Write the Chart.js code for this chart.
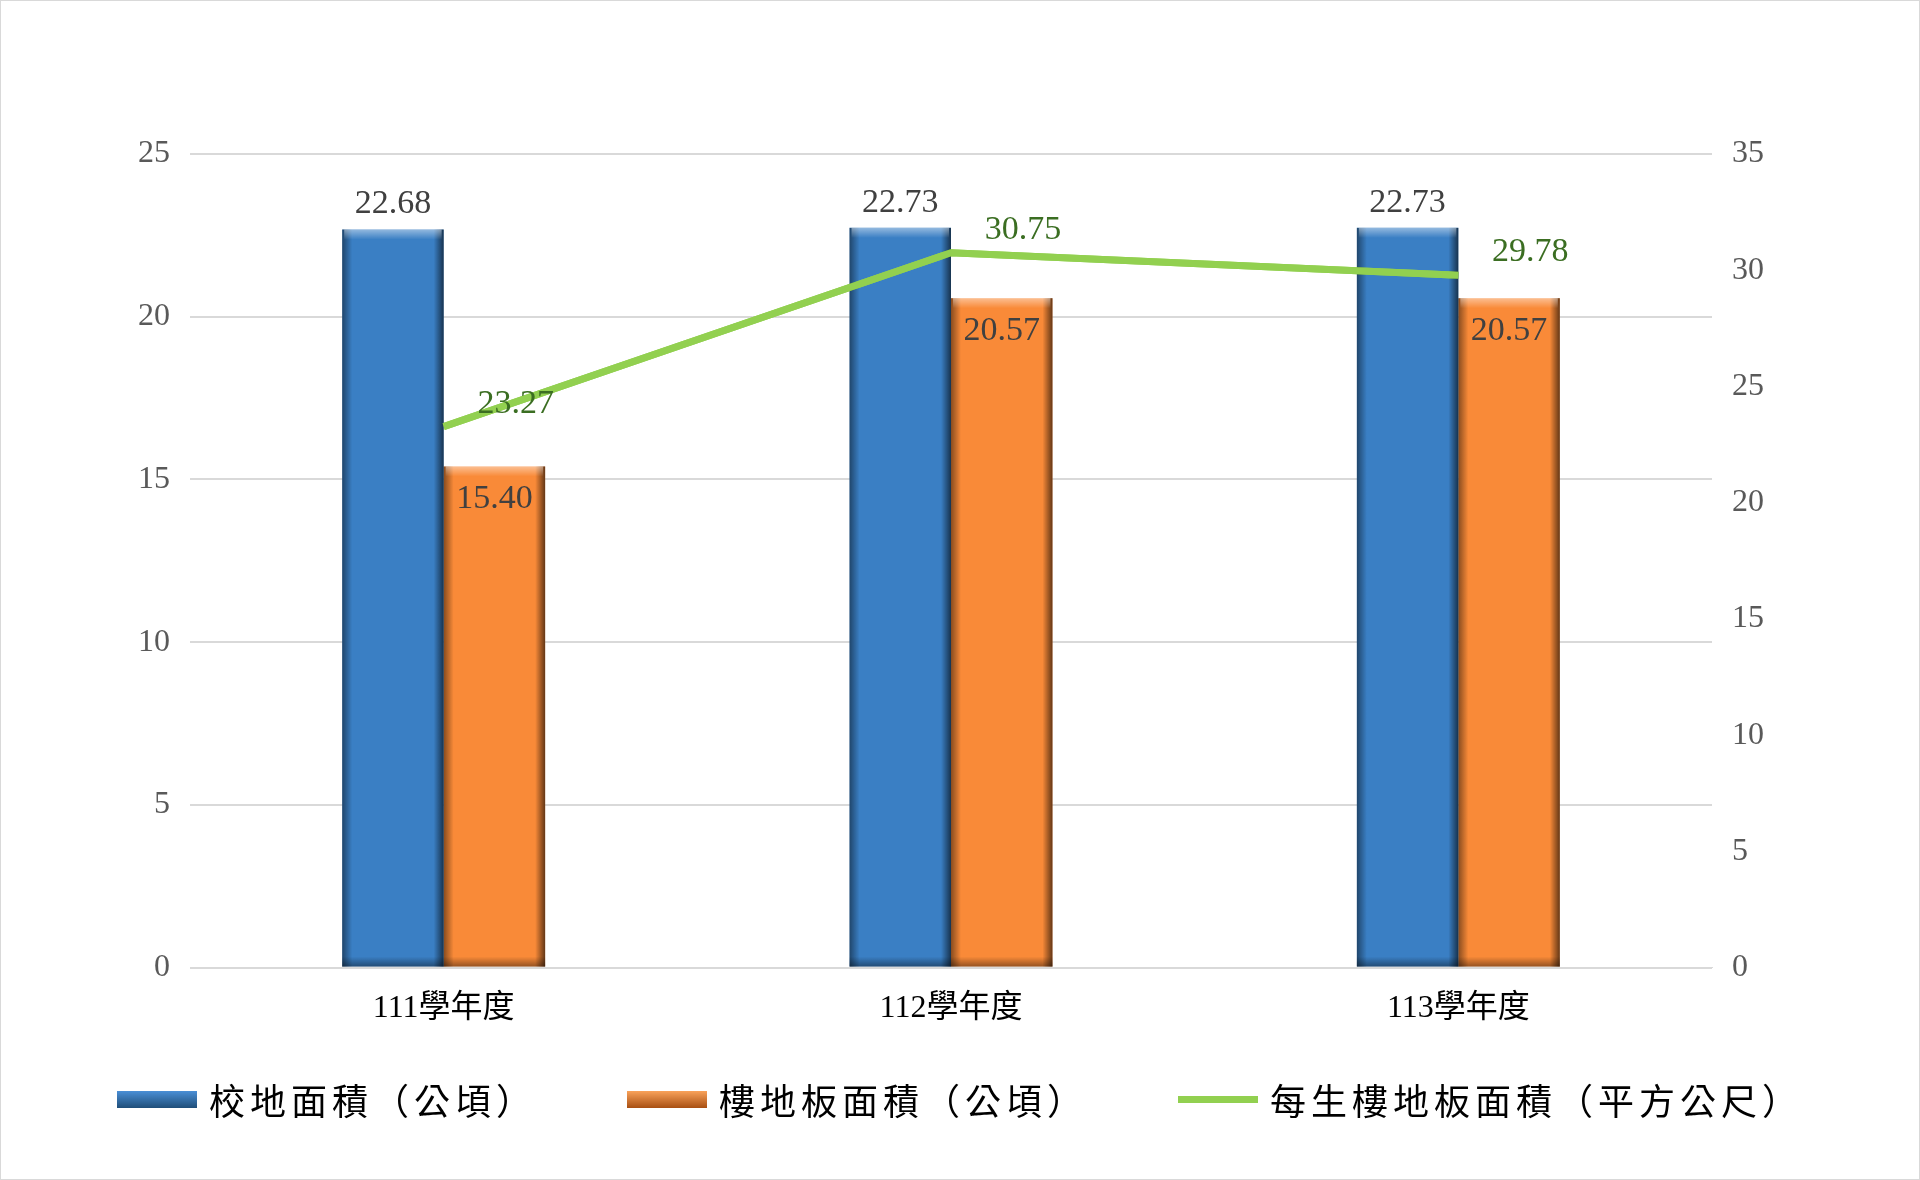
<!DOCTYPE html>
<html><head><meta charset="utf-8">
<script src="https://cdn.jsdelivr.net/npm/chart.js@4"></script>
<style>
body{margin:0;background:#fff;}
#wrap{position:relative;width:1918px;height:1178px;border:1px solid #d9d9d9;}
#legend{position:absolute;top:1072px;left:0;width:1918px;display:flex;justify-content:center;gap:90px;font:36px "Liberation Serif","Noto Sans CJK TC",serif;color:#000;letter-spacing:5px;}
.item{display:flex;align-items:center;gap:12px;}
.sw{width:80px;height:17px;}
</style></head><body>
<div id="wrap"><canvas id="c" width="1918" height="1178"></canvas>
<div id="legend">
<div class="item"><div class="sw" style="background:linear-gradient(#4a8fd6,#1f4e79)"></div>校地面積（公頃）</div>
<div class="item"><div class="sw" style="background:linear-gradient(#f9a25a,#a84f12)"></div>樓地板面積（公頃）</div>
<div class="item"><div class="sw" style="height:7px;background:#92d050"></div>每生樓地板面積（平方公尺）</div>
</div></div>
<script>
var categories = ['111學年度', '112學年度', '113學年度'];
var campusArea = [22.68, 22.73, 22.73];
var floorArea = [15.40, 20.57, 20.57];
var floorPerStudent = [23.27, 30.75, 29.78];

var font = {family: '"Liberation Serif","Noto Sans CJK TC",serif', size: 32};

var bevel = {
  id: 'bevel',
  afterDatasetsDraw: function(chart) {
    var ctx = chart.ctx;
    [1, 2].forEach(function(di) {
      chart.getDatasetMeta(di).data.forEach(function(b) {
        var l = b.x - b.width / 2, r = b.x + b.width / 2, t = b.y, bo = b.base, e = 10;
        ctx.save();
        var g = ctx.createLinearGradient(l, 0, l + e, 0);
        g.addColorStop(0, 'rgba(0,0,0,0.45)'); g.addColorStop(1, 'rgba(0,0,0,0)');
        ctx.fillStyle = g; ctx.fillRect(l, t, e, bo - t);
        g = ctx.createLinearGradient(r - e, 0, r, 0);
        g.addColorStop(0, 'rgba(0,0,0,0)'); g.addColorStop(1, 'rgba(0,0,0,0.6)');
        ctx.fillStyle = g; ctx.fillRect(r - e, t, e, bo - t);
        g = ctx.createLinearGradient(0, t, 0, t + e);
        g.addColorStop(0, 'rgba(255,255,255,0.45)'); g.addColorStop(1, 'rgba(255,255,255,0)');
        ctx.fillStyle = g; ctx.fillRect(l + 2, t, r - l - 4, e);
        g = ctx.createLinearGradient(0, bo - e, 0, bo);
        g.addColorStop(0, 'rgba(0,0,0,0)'); g.addColorStop(1, 'rgba(0,0,0,0.4)');
        ctx.fillStyle = g; ctx.fillRect(l, bo - e, r - l, e);
        ctx.restore();
      });
    });
    // redraw line over bevel
    chart.getDatasetMeta(0).controller.draw();
  }
};

var labels = {
  id: 'labels',
  afterDatasetsDraw: function(chart) {
    var ctx = chart.ctx;
    ctx.save();
    ctx.font = '34px ' + font.family;
    ctx.textAlign = 'center';
    chart.getDatasetMeta(1).data.forEach(function(b, i) {
      ctx.fillStyle = '#404040'; ctx.textBaseline = 'bottom';
      ctx.fillText(campusArea[i].toFixed(2), b.x, b.y - 8);
    });
    chart.getDatasetMeta(2).data.forEach(function(b, i) {
      ctx.fillStyle = '#404040'; ctx.textBaseline = 'top';
      ctx.fillText(floorArea[i].toFixed(2), b.x, b.y + 16);
    });
    chart.getDatasetMeta(0).data.forEach(function(p, i) {
      ctx.fillStyle = '#3b6e22'; ctx.textBaseline = 'bottom';
      ctx.fillText(floorPerStudent[i].toFixed(2), p.x + 72, p.y - 6);
    });
    ctx.restore();
  }
};

new Chart(document.getElementById('c'), {
  data: {
    labels: categories,
    datasets: [
      {type: 'line', data: floorPerStudent, yAxisID: 'y2', borderColor: '#92d050', borderWidth: 7, pointRadius: 0, order: 0},
      {type: 'bar', data: campusArea, backgroundColor: '#3a7fc4', yAxisID: 'y', categoryPercentage: 0.4, barPercentage: 1, order: 1},
      {type: 'bar', data: floorArea, backgroundColor: '#f98a38', yAxisID: 'y', categoryPercentage: 0.4, barPercentage: 1, order: 1}
    ]
  },
  plugins: [bevel, labels],
  options: {
    responsive: false,
    animation: false,
    layout: {padding: {top: 153, left: 117, right: 135, bottom: 137}},
    plugins: {legend: {display: false}, tooltip: {enabled: false}},
    scales: {
      x: {grid: {display: false}, border: {color: '#d9d9d9'}, ticks: {font: font, color: '#000', padding: 14}},
      y: {min: 0, max: 25, ticks: {stepSize: 5, font: font, color: '#595959', padding: 20}, grid: {color: '#d9d9d9', lineWidth: 2, drawTicks: false}, border: {display: false}},
      y2: {position: 'right', min: 0, max: 35, ticks: {stepSize: 5, font: font, color: '#595959', padding: 20}, grid: {display: false, drawTicks: false}, border: {display: false}}
    }
  }
});
</script>
</body></html>
